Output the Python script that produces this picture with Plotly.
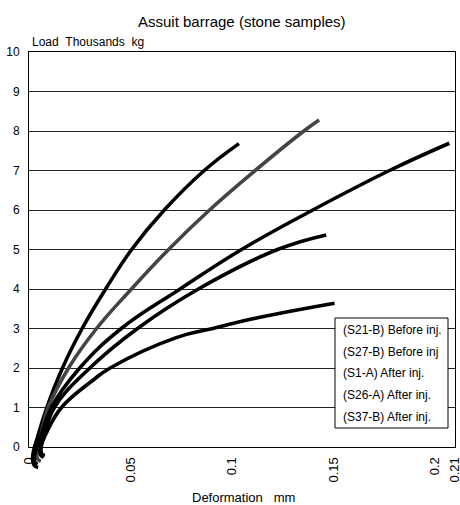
import plotly.graph_objects as go

# ---- data ----
title_text = "Assuit barrage (stone samples)"
y_title = "Load\u00a0\u00a0Thousands\u00a0\u00a0kg"
x_title = "Deformation\u00a0\u00a0\u00a0mm"
series_names = ["(S21-B) Before inj.", "(S27-B) Before inj", "(S1-A) After inj.",
                "(S26-A) After inj.", "(S37-B) After inj."]
series_colors = ["#000000", "#444444", "#000000", "#000000", "#000000"]

s21_x = [0.0045, 0.0025, 0.0018, 0.0045, 0.0088, 0.0165, 0.0262, 0.0378, 0.0506, 0.0667, 0.0864, 0.1035]
s21_y = [-0.52, -0.46, -0.25, 0.3, 1, 2, 3, 4, 5, 6, 7, 7.68]
s27_x = [0.0058, 0.0042, 0.0038, 0.0058, 0.0095, 0.0195, 0.0333, 0.0505, 0.0688, 0.089, 0.1115, 0.1355, 0.143]
s27_y = [-0.36, -0.3, -0.1, 0.3, 1, 2, 3, 4, 5, 6, 7, 8, 8.28]
s1_x = [0.0042, 0.0028, 0.0032, 0.006, 0.011, 0.025, 0.0455, 0.0745, 0.1048, 0.1399, 0.1777, 0.2072]
s1_y = [-0.44, -0.36, -0.1, 0.3, 1, 2, 3, 4, 5, 6, 7, 7.69]
s26_x = [0.0072, 0.0056, 0.0055, 0.0075, 0.0125, 0.030, 0.0535, 0.0835, 0.1225, 0.1465]
s26_y = [-0.26, -0.2, 0.0, 0.3, 1, 2, 3, 4, 5, 5.37]
s37_x = [0.0078, 0.0062, 0.0062, 0.0085, 0.016, 0.0315, 0.040, 0.0726, 0.0906, 0.1086, 0.1506]
s37_y = [-0.22, -0.16, 0.05, 0.35, 1, 1.69, 2, 2.77, 3, 3.23, 3.64]

x_ticks = [0, 0.05, 0.1, 0.15, 0.2, 0.21]
x_ticklabels = ["0", "0.05", "0.1", "0.15", "0.2", "0.21"]
y_ticks = [0, 1, 2, 3, 4, 5, 6, 7, 8, 9, 10]

xs = [s21_x, s27_x, s1_x, s26_x, s37_x]
ys = [s21_y, s27_y, s1_y, s26_y, s37_y]

FONT = "Liberation Sans Narrow, Arial Narrow, Liberation Sans, Arial, sans-serif"
FONT_REG = "Liberation Sans, Arial, sans-serif"

# page geometry (body margin removed by post_script)
W, H = 460, 505
plot_left, plot_right, plot_top, plot_bottom = 29, 455, 52, 475   # page pixels
zero_px = 447
ml, mr = plot_left, W - plot_right
mt, mb = plot_top, H - plot_bottom
plot_w = plot_right - plot_left
plot_h = plot_bottom - plot_top
extra = plot_bottom - zero_px
dom0 = extra / plot_h
ymax = 10
ymin2 = -extra / (zero_px - plot_top) * ymax


def px(xp):
    return (xp - plot_left) / plot_w


def py(yp):
    return 1 - (yp - plot_top) / plot_h


fig = go.Figure()
# invisible trace so the framed subplot (x, y) is created
fig.add_trace(go.Scatter(x=[0.1], y=[5], xaxis="x", yaxis="y", mode="markers",
                         marker=dict(opacity=0), showlegend=False, hoverinfo="skip"))
for name, color, xv, yv in zip(series_names, series_colors, xs, ys):
    fig.add_trace(go.Scatter(x=xv, y=yv, name=name, mode="lines", xaxis="x", yaxis="y2",
                             line=dict(color=color, width=3.6, shape="spline", smoothing=1.2),
                             showlegend=False, hoverinfo="skip"))

fig.update_layout(
    width=W, height=H, margin=dict(l=ml, r=mr, t=mt, b=mb, autoexpand=False),
    paper_bgcolor="white", plot_bgcolor="rgba(0,0,0,0)",
    font=dict(family=FONT, size=12, color="black"),
    showlegend=False,
    xaxis=dict(range=[0, 0.21], anchor="y", tickvals=x_ticks, ticktext=x_ticklabels,
               tickangle=-90, showgrid=False, zeroline=False, showline=True, mirror=True,
               linecolor="black", linewidth=1, ticks="", automargin=False,
               ticklabeloverflow="allow", ticklabelstandoff=4,
               tickfont=dict(size=13, family=FONT_REG)),
    yaxis=dict(range=[0, ymax], domain=[dom0, 1], anchor="x", tickvals=y_ticks,
               showgrid=True, gridcolor="#222222", gridwidth=1, zeroline=False,
               showline=True, mirror=True, linecolor="black", linewidth=1, ticks="",
               automargin=False, ticklabelstandoff=6, tickfont=dict(size=12, family=FONT)),
    yaxis2=dict(range=[ymin2, ymax], domain=[0, 1], anchor="x", visible=False,
                showgrid=False, zeroline=False, automargin=False),
)

annotations = [
    dict(text=title_text, x=px(242), y=py(22), xref="paper", yref="paper",
         showarrow=False, font=dict(size=15, family=FONT), xanchor="center", yanchor="middle"),
    dict(text=y_title, x=px(30), y=py(42), xref="paper", yref="paper",
         showarrow=False, font=dict(size=12, family=FONT), xanchor="left", yanchor="middle"),
    dict(text=x_title, x=px(244), y=py(497), xref="paper", yref="paper",
         showarrow=False, font=dict(size=13, family=FONT), xanchor="center", yanchor="middle"),
]

# legend box (text only, as in the reference)
box_x0, box_x1, box_y0, box_y1 = 335, 448, 318, 428
shapes = [dict(type="rect", xref="paper", yref="paper", layer="above",
               x0=px(box_x0), x1=px(box_x1), y0=py(box_y1), y1=py(box_y0),
               line=dict(color="black", width=1), fillcolor="white")]
for i, name in enumerate(series_names):
    ypx = 330 + i * 21.7
    annotations.append(dict(text=name, x=px(341), y=py(ypx),
                            xref="paper", yref="paper", showarrow=False, xanchor="left",
                            yanchor="middle", font=dict(size=12, family=FONT)))

fig.update_layout(annotations=annotations, shapes=shapes)
fig.write_html("out.html", config={"displayModeBar": False},
               post_script="document.body.style.margin='0px';document.body.style.overflow='hidden';")
